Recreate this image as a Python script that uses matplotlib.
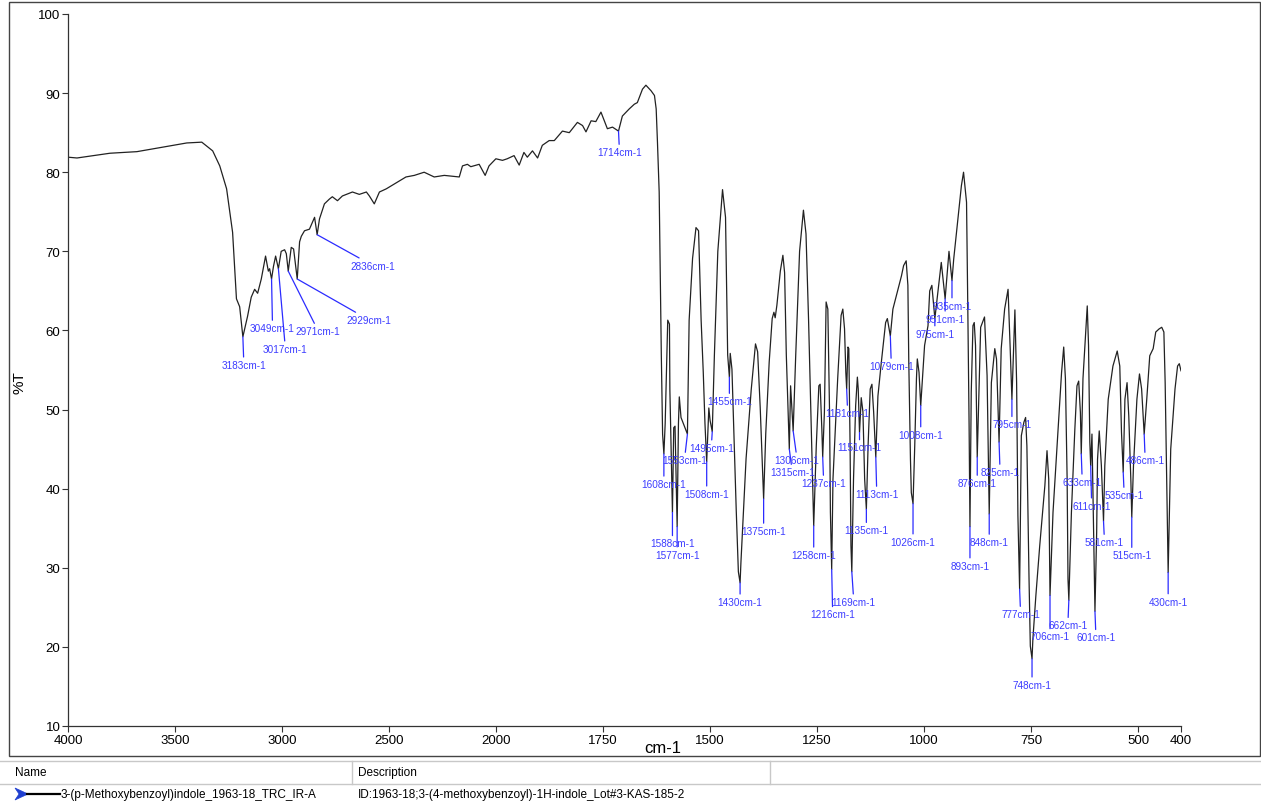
import numpy as np
import matplotlib
matplotlib.use('Agg')
import matplotlib.pyplot as plt
from matplotlib.patches import Rectangle, Polygon
from matplotlib.lines import Line2D

# IR spectrum: wavenumber (cm-1) and %T
wavenumber = [
    4000, 3958, 3804, 3678, 3445, 3375, 3324, 3291, 3259, 3231, 3213, 3198, 3183,
    3161, 3144, 3128, 3114, 3097, 3077, 3064, 3058, 3049, 3040, 3030, 3017, 3004,
    2988, 2980, 2971, 2957, 2946, 2929, 2918, 2910, 2895, 2872, 2848, 2836, 2825,
    2802, 2779, 2765, 2741, 2718, 2671, 2639, 2606, 2592, 2569, 2545, 2513, 2452,
    2421, 2382, 2336, 2289, 2242, 2172, 2157, 2134, 2118, 2079, 2051, 2033, 2001,
    1985, 1974, 1958, 1946, 1935, 1927, 1915, 1903, 1892, 1876, 1864, 1845, 1829,
    1810, 1798, 1790, 1778, 1767, 1755, 1740, 1728, 1714, 1705, 1689, 1677, 1670,
    1658, 1650, 1638, 1630, 1626, 1623, 1619, 1617, 1614, 1611, 1608, 1605, 1599,
    1595, 1594, 1588, 1585, 1582, 1577, 1574, 1572, 1568, 1553, 1549, 1541, 1533,
    1527, 1521, 1516, 1512, 1508, 1503, 1500, 1495, 1490, 1482, 1471, 1464, 1459,
    1455, 1453, 1449, 1439, 1434, 1430, 1428, 1416, 1404, 1394, 1389, 1383, 1375,
    1370, 1362, 1355, 1351, 1348, 1344, 1336, 1330, 1326, 1322, 1315, 1312, 1306,
    1300, 1291, 1282, 1276, 1270, 1264, 1258, 1252, 1246, 1243, 1239, 1237, 1233,
    1229, 1225, 1221, 1219, 1216, 1213, 1202, 1194, 1190, 1186, 1183, 1181, 1178,
    1176, 1173, 1171, 1169, 1165, 1160, 1156, 1154, 1151, 1147, 1143, 1139, 1135,
    1131, 1126, 1122, 1118, 1113, 1108, 1100, 1090, 1086, 1079, 1073, 1061, 1053,
    1048, 1042, 1038, 1036, 1032, 1030, 1026, 1022, 1018, 1016, 1012, 1008, 1004,
    999, 991, 987, 982, 975, 960, 951, 942, 935, 931, 921, 913, 908, 901, 898, 895,
    893, 890, 886, 883, 880, 876, 868, 859, 853, 848, 843, 835, 831, 825, 820, 812,
    804, 799, 795, 788, 784, 781, 777, 773, 767, 763, 760, 755, 752, 748, 746, 739,
    730, 718, 713, 709, 706, 699, 687, 679, 674, 670, 666, 664, 662, 656, 648, 643,
    639, 635, 633, 629, 622, 619, 616, 613, 611, 608, 601, 597, 595, 591, 586, 581,
    578, 570, 559, 549, 543, 539, 535, 531, 526, 522, 517, 515, 511, 503, 497, 492,
    486, 480, 473, 465, 459, 451, 445, 440, 437, 434, 430, 424, 414, 408, 404, 400,
]
transmittance = [
    81.9, 81.8, 82.4, 82.6, 83.7, 83.8, 82.7, 80.8, 77.9, 72.4, 64.0, 63.0, 59.2,
    61.8, 64.2, 65.2, 64.7, 66.5, 69.4, 67.5, 67.8, 66.5, 68.1, 69.4, 67.8, 70.0,
    70.2, 69.7, 67.5, 70.5, 70.3, 66.5, 71.2, 71.9, 72.6, 72.8, 74.3, 72.1, 74.1,
    76.0, 76.6, 76.9, 76.4, 77.0, 77.5, 77.2, 77.5, 77.0, 76.0, 77.5, 77.9, 78.9,
    79.4, 79.6, 80.0, 79.4, 79.6, 79.4, 80.8, 81.0, 80.7, 81.0, 79.6, 80.8, 81.7,
    81.5, 81.7, 82.1, 80.9, 82.5, 81.9, 82.7, 81.8, 83.4, 84.0, 84.0, 85.2, 85.0,
    86.3, 85.9, 85.1, 86.5, 86.4, 87.6, 85.5, 85.7, 85.2, 87.1, 88.0, 88.6, 88.8,
    90.5, 91.0, 90.3, 89.7, 88.0, 83.8, 77.5, 69.0, 56.9, 46.9, 44.4, 48.2, 61.3,
    60.8, 52.5, 37.0, 47.7, 47.9, 35.2, 48.2, 51.6, 49.0, 46.9, 61.3, 69.1, 73.0,
    72.6, 61.3, 54.7, 48.2, 43.4, 50.2, 48.6, 47.2, 56.9, 70.0, 77.8, 74.3, 56.9,
    54.1, 57.1, 55.1, 37.3, 29.5, 28.1, 30.7, 43.8, 52.5, 58.3, 57.3, 50.3, 38.7,
    47.0, 56.0, 61.5, 62.3, 61.6, 63.2, 67.5, 69.5, 67.3, 56.9, 45.0, 53.0, 47.3,
    56.9, 70.0, 75.2, 72.2, 61.3, 48.2, 35.3, 45.4, 53.0, 53.2, 47.5, 44.0, 49.7,
    63.6, 62.7, 49.7, 37.0, 29.8, 41.2, 53.9, 61.9, 62.7, 60.2, 54.7, 52.6, 57.9,
    57.7, 45.4, 32.8, 29.5, 41.2, 50.5, 54.1, 52.6, 47.1, 51.5, 49.7, 41.2, 37.4,
    45.4, 52.6, 53.2, 49.7, 44.0, 51.7, 56.0, 61.0, 61.5, 59.3, 62.7, 65.2, 66.9,
    68.2, 68.8, 65.7, 56.4, 43.7, 39.5, 38.1, 45.4, 53.9, 56.4, 54.7, 50.5, 53.9,
    58.1, 60.6, 65.0, 65.7, 61.5, 68.6, 64.0, 70.0, 66.3, 69.0, 74.1, 78.3, 80.0, 76.2, 62.7, 48.0,
    35.2, 52.2, 60.6, 61.0, 58.1, 44.0, 60.4, 61.7, 54.3, 36.8, 53.4, 57.7, 56.4, 45.9, 57.7, 62.7,
    65.2, 57.7, 51.3, 62.6, 53.4, 36.6, 27.3, 46.7, 48.4, 49.0, 45.4, 28.6, 20.1, 18.5, 21.0, 26.5,
    32.8, 40.4, 44.8, 41.2, 26.5, 37.0, 47.5, 54.7, 57.9, 53.9, 41.2, 28.6, 25.9, 37.0, 47.5, 53.0,
    53.6, 49.6, 44.4, 53.9, 60.2, 63.1, 58.1, 45.9, 42.9, 46.9, 24.5, 34.5, 43.7, 47.3, 42.9, 35.9,
    42.9, 51.3, 55.5, 57.4, 55.5, 47.1, 42.1, 51.3, 53.4, 49.2, 40.8, 36.4, 42.9, 51.3, 54.5, 52.6,
    46.9, 51.3, 56.8, 57.7, 59.8, 60.2, 60.4, 59.8, 53.4, 42.9, 29.4, 45.0, 52.6, 55.5, 55.8, 54.9,
]

# picked peaks (cm-1)
peak_wn = [3183, 3049, 3017, 2971, 2929, 2836, 1714, 1608, 1588, 1577, 1553,
           1508, 1495, 1455, 1430, 1375, 1315, 1306, 1258, 1237, 1216, 1181,
           1169, 1151, 1135, 1113, 1079, 1026, 1008, 975, 951, 935, 893, 876,
           848, 825, 795, 777, 748, 706, 662, 633, 611, 601, 581, 535, 515,
           486, 430]

x_ticks = [4000, 3500, 3000, 2500, 2000, 1750, 1500, 1250, 1000, 750, 500, 400]
y_ticks = [10, 20, 30, 40, 50, 60, 70, 80, 90, 100]

sample_name = '3-(p-Methoxybenzoyl)indole_1963-18_TRC_IR-A'
sample_desc = 'ID:1963-18;3-(4-methoxybenzoyl)-1H-indole_Lot#3-KAS-185-2'

# label placement (pixel offset of the label from its peak)
label_offsets = [(1, -28), (1, -49), (7, -80), (30, -60), (72, -41), (56, -31),
                 (1, -21), (0, -30), (0, -31), (0, -28), (-3, -26), (0, -32),
                 (-1, -16), (0, -24), (0, -19), (0, -32), (3, -23), (4, -29),
                 (0, -29), (1, -26), (1, -45), (1, -24), (2, -30), (0, -15),
                 (0, -21), (1, -37), (1, -30), (0, -38), (0, -29), (0, -15),
                 (0, -20), (0, -25), (0, -39), (0, -26), (0, -28), (1, -30),
                 (0, -25), (1, -25), (0, -26), (0, -41), (-1, -25), (1, -28),
                 (1, -40), (1, -26), (1, -21), (1, -23), (0, -38), (1, -26),
                 (0, -29)]

W, H = 1261, 803
LABEL_BLUE = '#3c3cff'
LINE_BLUE = '#2b2bff'


def px(x, y):
    """pixel position (from top-left) -> figure fraction"""
    return x / W, 1 - y / H


def fwd(w):
    w = np.asarray(w, dtype=float)
    return np.where(w > 2000, 2000 + (w - 2000) / 2.0, w)


def inv(u):
    u = np.asarray(u, dtype=float)
    return np.where(u > 2000, 2000 + (u - 2000) * 2.0, u)


def main():
    plt.rcParams['font.family'] = ['Liberation Sans', 'DejaVu Sans']
    fig = plt.figure(figsize=(W / 100, H / 100), dpi=100)
    fig.patch.set_facecolor('white')

    left, right, top, bottom = 68, 1181, 15, 727
    ax = fig.add_axes([left / W, 1 - bottom / H, (right - left) / W, (bottom - top) / H])

    ax.set_xscale('function', functions=(fwd, inv))
    ax.plot(wavenumber, transmittance, color='#222222', lw=0.9)
    ax.set_xlim(4000, 400)
    ax.set_ylim(10, 100)

    ax.set_xticks(x_ticks)
    ax.set_xticklabels([str(t) for t in x_ticks])
    ax.set_yticks(y_ticks)
    ax.set_yticklabels([str(t) for t in y_ticks])
    ax.xaxis.set_minor_locator(matplotlib.ticker.NullLocator())
    ax.tick_params(axis='both', direction='out', length=4, width=0.8, color='#333333',
                   labelsize=9.5, pad=1.5)
    for lbl in ax.get_xticklabels() + ax.get_yticklabels():
        lbl.set_family(['Liberation Sans Narrow', 'Liberation Sans'])
    for side in ('top', 'right'):
        ax.spines[side].set_visible(False)
    for side in ('left', 'bottom'):
        ax.spines[side].set_color('#333333')
        ax.spines[side].set_linewidth(0.9)

    # peak labels
    wn_inc = np.array(wavenumber[::-1], dtype=float)
    t_inc = np.array(transmittance[::-1], dtype=float)
    peak_t = np.interp(peak_wn, wn_inc, t_inc)
    for w, t, (dx, dy) in zip(peak_wn, peak_t, label_offsets):
        ax.annotate(f'{w}cm-1', xy=(w, t), xytext=(dx, dy), textcoords='offset pixels',
                    ha='center', va='center', fontsize=7.2, color=LABEL_BLUE,
                    arrowprops=dict(arrowstyle='-', color=LINE_BLUE, lw=0.9,
                                    shrinkA=0, shrinkB=0))

    # axis titles
    fig.text(*px(663, 749), 'cm-1', ha='center', va='center', fontsize=12,
             family=['Liberation Sans Narrow', 'Liberation Sans'])
    fig.text(*px(19, 383), '%T', ha='center', va='center', fontsize=11,
             rotation=90, family=['Liberation Sans Narrow', 'Liberation Sans'])

    # panel frame
    x0, y0 = px(9, 757)
    x1, y1 = px(1260, 3)
    fig.add_artist(Rectangle((x0, y0), x1 - x0, y1 - y0, transform=fig.transFigure,
                             fill=False, edgecolor='#444444', lw=1.0))

    # table below the chart
    grey = '#c8c8c8'
    for y in (762, 785):
        fig.add_artist(Line2D([0, 1], [px(0, y)[1]] * 2, transform=fig.transFigure,
                              color=grey, lw=1.0))
    for x in (352, 770):
        fig.add_artist(Line2D([px(x, 0)[0]] * 2, [px(0, 762)[1], px(0, 785)[1]],
                              transform=fig.transFigure, color=grey, lw=1.0))
    table_font = ['Liberation Sans Narrow', 'Liberation Sans']
    fig.text(*px(15, 773), 'Name', ha='left', va='center', fontsize=8.5, family=table_font)
    fig.text(*px(358, 773), 'Description', ha='left', va='center', fontsize=8.5,
             family=table_font)
    arrow = [px(15, 789), px(28, 795), px(15, 801), px(19, 795)]
    fig.add_artist(Polygon(arrow, closed=True, transform=fig.transFigure,
                           facecolor='#1f3fd0', edgecolor='#1f3fd0', lw=0.5))
    fig.add_artist(Line2D([px(27, 0)[0], px(60, 0)[0]], [px(0, 795)[1]] * 2,
                          transform=fig.transFigure, color='black', lw=1.6))
    fig.text(*px(61, 795), sample_name, ha='left', va='center', fontsize=8.5,
             family=table_font)
    fig.text(*px(358, 795), sample_desc, ha='left', va='center', fontsize=8.5,
             family=table_font)

    fig.savefig('out.png', dpi=100, facecolor='white')
    plt.close(fig)


if __name__ == '__main__':
    main()
